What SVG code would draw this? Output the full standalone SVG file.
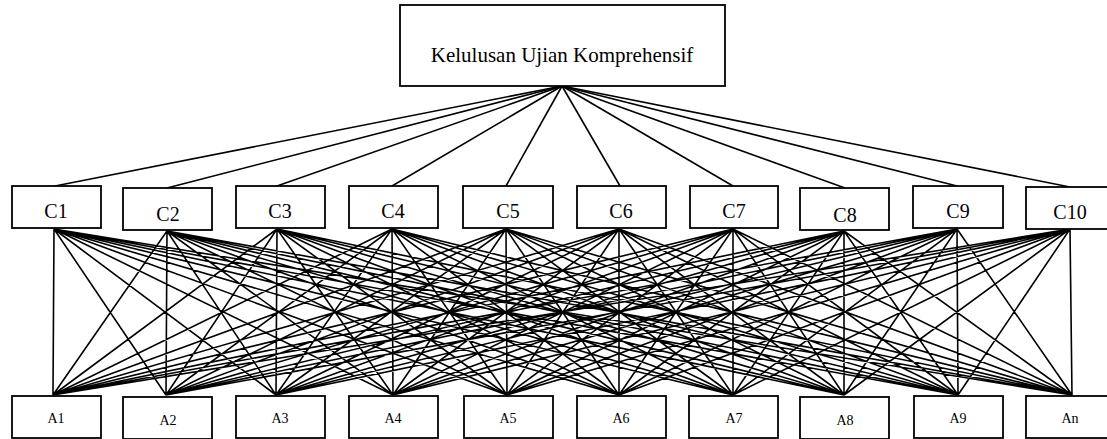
<svg xmlns="http://www.w3.org/2000/svg" width="1107" height="439" viewBox="0 0 1107 439">
<style>
.box{fill:#fff;stroke:#000;stroke-width:1.8}
.t{font-family:"Liberation Serif","Times New Roman",serif;fill:#000;text-anchor:middle}
.c{font-size:20px}
.a{font-size:14px}
#connectors line{stroke:#000;stroke-width:1.6}
</style>
<rect width="1107" height="439" fill="#fff"/>
<g id="connectors">
<line x1="562" y1="86" x2="55" y2="186"/>
<line x1="562" y1="86" x2="167" y2="188"/>
<line x1="562" y1="86" x2="277" y2="186"/>
<line x1="562" y1="86" x2="392" y2="186"/>
<line x1="562" y1="86" x2="506" y2="186"/>
<line x1="562" y1="86" x2="620" y2="186"/>
<line x1="562" y1="86" x2="733" y2="186"/>
<line x1="562" y1="86" x2="845" y2="188"/>
<line x1="562" y1="86" x2="957" y2="186"/>
<line x1="562" y1="86" x2="1070" y2="187"/>
<path fill="none" stroke="#000" stroke-width="1.6" d="
M54 229L53 395M54 229L166 395M54 229L276 395M54 229L393 395M54 229L507 395M54 229L619 395M54 229L733 395M54 229L844 395M54 229L958 395M54 229L1072 395
M167 231L53 395M167 231L166 395M167 231L276 395M167 231L393 395M167 231L507 395M167 231L619 395M167 231L733 395M167 231L844 395M167 231L958 395M167 231L1072 395
M277 229L53 395M277 229L166 395M277 229L276 395M277 229L393 395M277 229L507 395M277 229L619 395M277 229L733 395M277 229L844 395M277 229L958 395M277 229L1072 395
M392 229L53 395M392 229L166 395M392 229L276 395M392 229L393 395M392 229L507 395M392 229L619 395M392 229L733 395M392 229L844 395M392 229L958 395M392 229L1072 395
M506 229L53 395M506 229L166 395M506 229L276 395M506 229L393 395M506 229L507 395M506 229L619 395M506 229L733 395M506 229L844 395M506 229L958 395M506 229L1072 395
M619 229L53 395M619 229L166 395M619 229L276 395M619 229L393 395M619 229L507 395M619 229L619 395M619 229L733 395M619 229L844 395M619 229L958 395M619 229L1072 395
M733 229L53 395M733 229L166 395M733 229L276 395M733 229L393 395M733 229L507 395M733 229L619 395M733 229L733 395M733 229L844 395M733 229L958 395M733 229L1072 395
M844 231L53 395M844 231L166 395M844 231L276 395M844 231L393 395M844 231L507 395M844 231L619 395M844 231L733 395M844 231L844 395M844 231L958 395M844 231L1072 395
M957 229L53 395M957 229L166 395M957 229L276 395M957 229L393 395M957 229L507 395M957 229L619 395M957 229L733 395M957 229L844 395M957 229L958 395M957 229L1072 395
M1070 229L53 395M1070 229L166 395M1070 229L276 395M1070 229L393 395M1070 229L507 395M1070 229L619 395M1070 229L733 395M1070 229L844 395M1070 229L958 395M1070 229L1072 395"/>
</g>
<g id="goal"><rect class="box" x="400" y="5" width="325" height="81"/><text class="t" x="562" y="62" font-size="21">Kelulusan Ujian Komprehensif</text></g>
<g id="C1"><rect class="box" x="12" y="186" width="89" height="42"/><text class="t c" x="56" y="218">C1</text></g>
<g id="C2"><rect class="box" x="123" y="188" width="89" height="42"/><text class="t c" x="168" y="221">C2</text></g>
<g id="C3"><rect class="box" x="236" y="186" width="89" height="42"/><text class="t c" x="280" y="218">C3</text></g>
<g id="C4"><rect class="box" x="349" y="186" width="89" height="42"/><text class="t c" x="393" y="218">C4</text></g>
<g id="C5"><rect class="box" x="463" y="186" width="90" height="42"/><text class="t c" x="508" y="218">C5</text></g>
<g id="C6"><rect class="box" x="577" y="186" width="89" height="42"/><text class="t c" x="621" y="218">C6</text></g>
<g id="C7"><rect class="box" x="690" y="186" width="88" height="42"/><text class="t c" x="734" y="218">C7</text></g>
<g id="C8"><rect class="box" x="800" y="188" width="89" height="42"/><text class="t c" x="845" y="222">C8</text></g>
<g id="C9"><rect class="box" x="913" y="186" width="90" height="42"/><text class="t c" x="958" y="218">C9</text></g>
<g id="C10"><rect class="box" x="1026" y="187" width="89" height="42"/><text class="t c" x="1070" y="219">C10</text></g>
<g id="A1"><rect class="box" x="12" y="396" width="89" height="42"/><text class="t a" x="56" y="423">A1</text></g>
<g id="A2"><rect class="box" x="123" y="397" width="89" height="42"/><text class="t a" x="168" y="425">A2</text></g>
<g id="A3"><rect class="box" x="236" y="396" width="89" height="42"/><text class="t a" x="280" y="423">A3</text></g>
<g id="A4"><rect class="box" x="349" y="396" width="89" height="42"/><text class="t a" x="393" y="423">A4</text></g>
<g id="A5"><rect class="box" x="464" y="396" width="89" height="42"/><text class="t a" x="508" y="423">A5</text></g>
<g id="A6"><rect class="box" x="577" y="396" width="89" height="42"/><text class="t a" x="621" y="423">A6</text></g>
<g id="A7"><rect class="box" x="689" y="396" width="89" height="42"/><text class="t a" x="734" y="423">A7</text></g>
<g id="A8"><rect class="box" x="800" y="397" width="89" height="42"/><text class="t a" x="845" y="425">A8</text></g>
<g id="A9"><rect class="box" x="914" y="396" width="89" height="42"/><text class="t a" x="958" y="423">A9</text></g>
<g id="An"><rect class="box" x="1026" y="396" width="89" height="42"/><text class="t a" x="1070" y="423">An</text></g>
</svg>
